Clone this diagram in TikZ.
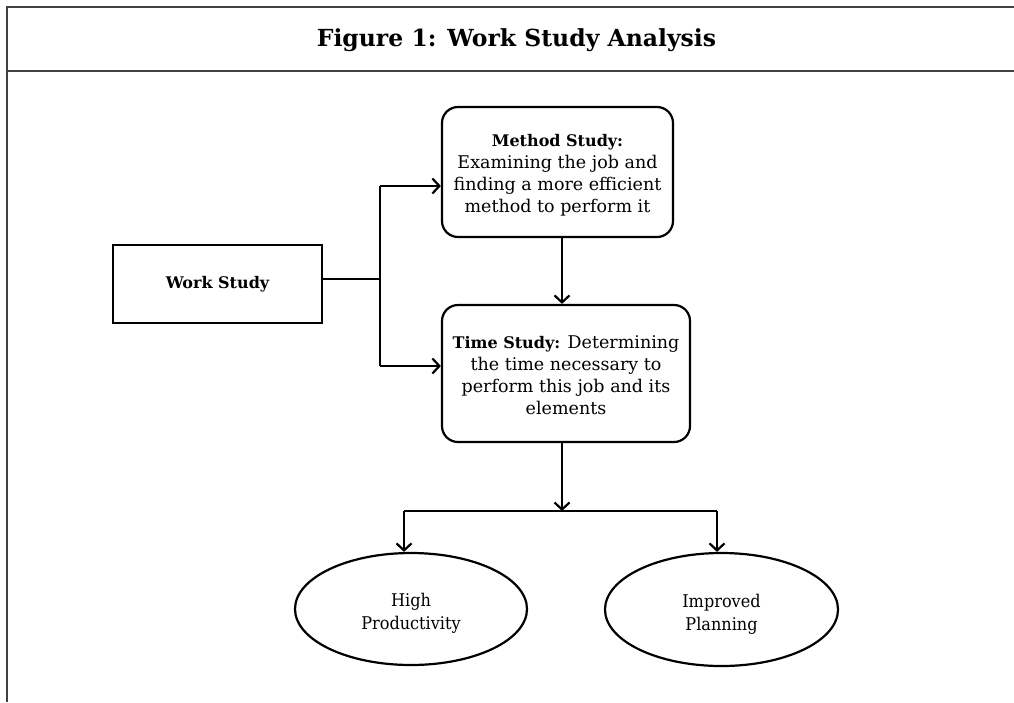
\documentclass[tikz,border=0pt]{standalone}
\usepackage{fontspec}
\setmainfont{DejaVu Serif}
\newfontfamily\ovalfont[FakeStretch=0.92]{DejaVu Serif}
\usetikzlibrary{arrows.meta,shapes.geometric}
\newcommand\bx[1]{{\fontsize{16}{22}\selectfont\bfseries #1}}
\newcommand\lift[1]{\rule{0pt}{#1}}
\begin{document}
\begin{tikzpicture}[x=1pt,y=-1pt,line width=2.2pt,
  frameline/.style={draw=black!75,line width=1.3pt},
  box/.style={draw,line width=2.2pt,align=center,inner sep=0pt,font=\fontsize{17.5}{22}\selectfont},
  roundbox/.style={box,rectangle,rounded corners=16pt},
  oval/.style={box,ellipse,font=\ovalfont\fontsize{17.5}{23}\selectfont},
  arr/.style={-{Straight Barb[length=7pt,width=15pt]}}]
\useasboundingbox (0,0) rectangle (1014,702);
\draw[frameline] (1014,7) -- (7,7) -- (7,702);
\draw[frameline] (7,71) -- (1014,71);
\node[font=\fontsize{23.5}{26}\selectfont\bfseries] (title) at (516.5,40) {Figure 1: Work Study Analysis};
\node[box,rectangle,minimum width=209pt,minimum height=78pt] (ws) at (217.5,284) {\bx{Work Study}};
\node[roundbox,minimum width=231pt,minimum height=130pt] (ms) at (557.5,172)
  {\lift{18pt}\bx{Method Study:}\\Examining the job and\\finding a more efficient\\method to perform it};
\node[roundbox,minimum width=248pt,minimum height=137pt] (ts) at (566,373.5)
  {\lift{17pt}\bx{Time Study:} Determining\\the time necessary to\\perform this job and its\\elements};
\node[oval,minimum width=232pt,minimum height=112pt] (hp) at (411,609) {\lift{22pt}High\\Productivity};
\node[oval,minimum width=233pt,minimum height=113pt] (ip) at (721.5,609.5) {\lift{22pt}Improved\\Planning};
\coordinate (b1) at (380,186);
\coordinate (b2) at (380,366);
\coordinate (cx) at (562,0);
\coordinate (split) at (562,511);
\coordinate (l) at (404,511);
\coordinate (r) at (717,511);
\draw ([yshift=5pt]ws.east) -- ([yshift=5pt]ws.east -| b1);
\draw (b1) -- (b2);
\draw[arr] (b1) -- (b1 -| ms.west);
\draw[arr] (b2) -- (b2 -| ts.west);
\draw[arr] (ms.south -| cx) -- (ts.north -| cx);
\draw[arr] (ts.south -| cx) -- (split);
\draw (l) -- (r);
\draw[arr] (l) -- (l |- hp.north);
\draw[arr] (r) -- (r |- ip.north);
\end{tikzpicture}
\end{document}
